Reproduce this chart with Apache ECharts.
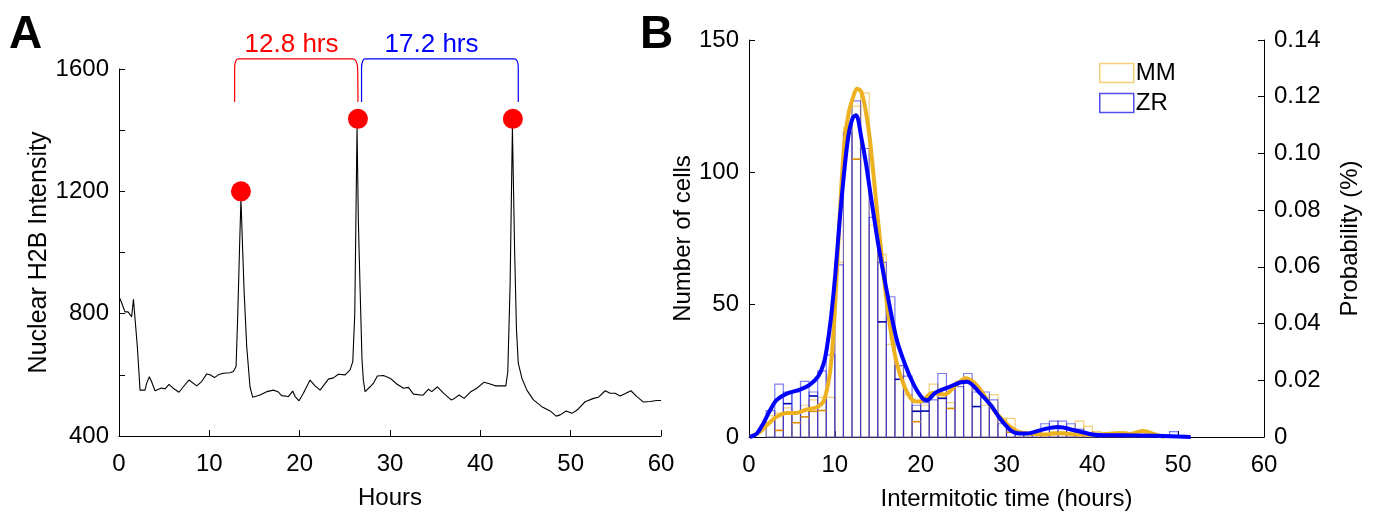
<!DOCTYPE html>
<html>
<head>
<meta charset="utf-8">
<script src="https://cdn.jsdelivr.net/npm/echarts@6/dist/echarts.min.js"></script>
<style>
html, body { margin: 0; padding: 0; background: #fff; }
#main { width: 1378px; height: 521px; }
</style>
</head>
<body>
<div id="main"></div>
<script>
// ---- panel A: single cell H2B trace ----
var traceHours = [0.1,0.3,0.66,1.0,1.4,1.6,1.77,2.03,2.33,2.88,3.06,3.36,3.6,3.99,4.7,5.1,5.54,6.0,6.64,7.12,7.75,8.6,9.15,9.71,10.08,10.56,11.0,11.55,12.29,12.66,12.96,13.15,13.33,13.5,13.7,13.84,14.14,14.5,14.8,15.6,16.36,17.09,17.6,18.0,18.75,19.23,19.5,19.93,20.41,21.15,21.7,22.26,23.18,23.73,24.29,25.03,25.58,25.88,26.1,26.35,26.5,26.69,26.9,27.05,27.24,27.8,28.15,28.6,29.27,30.01,30.75,31.49,32.04,32.6,33.63,34.26,34.63,35.25,35.92,36.77,37.14,37.65,38.2,38.95,39.61,40.42,41.09,41.64,42.82,43.04,43.3,43.55,43.8,44.0,44.2,44.6,45.15,45.88,46.81,47.73,48.4,48.84,49.5,50.13,50.68,51.6,52.53,53.08,53.82,54.37,54.92,55.48,56.0,56.67,57.33,58.06,58.8,59.54,60];
var traceIntensity = [850,835,806,806,790,847,847,692,550,550,572,594,578,548,557,554,569,556,543,561,583,564,578,603,600,591,600,605,607,611,627,800,1000,1175,1000,880,692,561,527,534,545,550,545,532,529,547,529,515,540,583,564,550,586,590,602,600,616,643,800,1410,1100,880,650,583,545,561,572,596,598,589,570,556,559,537,533,553,545,561,540,518,523,534,523,545,556,576,570,564,564,610,900,1410,1000,750,638,589,550,518,496,482,465,469,482,474,484,512,523,527,548,540,540,531,538,548,529,511,513,516,516];

var peakHours = [13.5, 26.45, 43.6];
var peakValues = [1200, 1437, 1437];

var bracketRedX = [12.8, 12.8, 12.95, 13.2, 25.9, 26.25, 26.42, 26.45];
var bracketRedY = [1492, 1605, 1628, 1633, 1633, 1625, 1600, 1492];
var bracketBlueX = [26.85, 26.85, 27.0, 27.25, 43.8, 44.1, 44.2, 44.2];
var bracketBlueY = [1492, 1605, 1628, 1633, 1633, 1625, 1600, 1492];
var bracketLabelX = [19.1, 34.6];
var bracketLabelY = [1680, 1680];
var bracketLabels = ['12.8 hrs', '17.2 hrs'];

// ---- panel B: intermitotic time histograms (1 h bins) ----
var binStart = [0,1,2,3,4,5,6,7,8,9,10,11,12,13,14,15,16,17,18,19,20,21,22,23,24,25,26,27,28,29,30,31,32,33,34,35,36,37,38,39,40,41,42,43,44,45,46,47,48,49,50,51,52];
var countsMM = [0,0,8,9,11,9,12,14,15,15,66,117,125,130,80,69,35,27,16,10,12,20,15,13,21,22,18,12,16,7,7,1,1,1,1,2,2,3,6,4,2,1,1,2,1,2,1,0,0,0,0,0,0];
var countsZR = [0,0,10,20,17,17,21,17,25,31,65,115,127,109,83,66,53,27,23,12,13,14,24,19,19,24,17,17,14,5,3,1,1,2,5,6,6,5,3,1,1,1,0,1,0,0,0,0,0,2,0,0,0];
var darkBinsMM = [3,5,6,7,8,12,19,23,30];
var darkCountsMM = [2.5,5.4,7.6,9.7,10,105,5.8,10.8,1.8];
var darkBinsZR = [4,7,15,17,19,20,22,26];
var darkCountsZR = [12.6,15.5,43.5,21.8,9.7,9.8,14.6,11.5];

var fitHoursMM = [0.1,1.28,2.06,3.2,4.4,5.55,6.72,7.88,8.66,9.24,9.63,10.06,10.5,11.07,11.6,12.08,12.58,13.09,13.6,14.1,15.11,16.12,17.13,18.14,19.15,19.95,21.37,22.78,24.2,25.21,26.22,27.23,28.23,29.24,30.25,31.26,32.27,34.29,36.31,38.33,40.35,42.88,44.39,45.91,47.42,48.43];
var fitProbMM = [0,0.0018,0.0041,0.0071,0.0085,0.0085,0.0097,0.0105,0.0125,0.019,0.028,0.048,0.074,0.1023,0.114,0.1193,0.1228,0.1217,0.115,0.1045,0.074,0.0458,0.027,0.0176,0.0128,0.0125,0.0155,0.015,0.0185,0.0207,0.0192,0.0155,0.0107,0.007,0.004,0.002,0.0013,0.0009,0.0013,0.0009,0.0009,0.0013,0.0011,0.0021,0.0008,0];
var fitHoursZR = [0.1,0.9,1.67,2.45,3.2,4.4,5.94,7.1,8.08,8.66,9.05,9.55,10.06,10.55,11.07,11.57,12.08,12.48,13.09,13.6,14.1,15.11,16.12,17.13,18.14,19.15,20.16,20.76,21.67,23.19,24.7,25.41,26.92,28.23,29.24,30.46,31.26,32.37,34.29,36.0,38.13,40.05,41.36,43.38,47.42,51.46];
var fitProbZR = [0,0.0012,0.0048,0.0094,0.013,0.0153,0.0167,0.0185,0.0215,0.0255,0.031,0.042,0.0576,0.076,0.0929,0.106,0.1125,0.1135,0.1055,0.097,0.0868,0.067,0.0504,0.0353,0.0259,0.0187,0.0138,0.013,0.0155,0.0175,0.0193,0.0195,0.0154,0.011,0.0065,0.0024,0.0013,0.0012,0.0027,0.0035,0.0022,0.0009,0.0006,0.0006,0.0004,0];

var FONT = 'Liberation Sans';
var orangeLight = 'rgba(237,177,32,0.6)';
var blueLight = 'rgba(20,20,235,0.55)';

function zip(a, b) {
	return a.map(function (v, i) { return [v, b[i]]; });
}

function histBars(stroke) {
	return function (params, api) {
		var x0 = api.value(0);
		var v = api.value(1);
		if (!v) return null;
		var p0 = api.coord([x0, 0]);
		var p1 = api.coord([x0 + 1, v]);
		return {
			type: 'rect',
			shape: { x: p0[0], y: p1[1], width: p1[0] - p0[0], height: p0[1] - p1[1] },
			style: { fill: 'none', stroke: stroke, lineWidth: 1.2 }
		};
	};
}

function darkTops(stroke) {
	return function (params, api) {
		var x0 = api.value(0);
		var v = api.value(1);
		var p0 = api.coord([x0, v]);
		var p1 = api.coord([x0 + 1, v]);
		return {
			type: 'line',
			shape: { x1: p0[0], y1: p0[1], x2: p1[0], y2: p1[1] },
			style: { stroke: stroke, lineWidth: 1.6 }
		};
	};
}

var axisText = { color: '#000', fontFamily: FONT, fontSize: 24 };
var nameText = { color: '#000', fontFamily: FONT, fontSize: 24 };
var blackLine = { lineStyle: { color: '#000', width: 1 } };
var inTicks = { inside: true, length: 6, lineStyle: { color: '#000' } };

var chart = echarts.init(document.getElementById('main'));

var option = {
	animation: false,
	backgroundColor: '#fff',
	textStyle: { fontFamily: FONT },
	grid: [
		{ left: 119, right: 717, top: 69, bottom: 85 },
		{ left: 749, right: 114, top: 40, bottom: 84 }
	],
	legend: {
		left: 1094,
		top: 56,
		orient: 'vertical',
		itemWidth: 34,
		itemHeight: 19,
		itemGap: 6,
		selectedMode: false,
		textStyle: { color: '#000', fontFamily: FONT, fontSize: 24, lineHeight: 20, padding: [0, 0, 0, -3] },
		data: [
			{ name: 'MM', icon: 'rect', itemStyle: { color: '#fff', borderColor: orangeLight, borderWidth: 1.5 } },
			{ name: 'ZR', icon: 'rect', itemStyle: { color: '#fff', borderColor: 'rgba(20,20,235,0.75)', borderWidth: 1.5 } }
		]
	},
	graphic: [
		{ type: 'text', left: 9, top: 12, style: { text: 'A', fontFamily: FONT, fontWeight: 'bold', fontSize: 46, fill: '#000' } },
		{ type: 'text', left: 640, top: 12, style: { text: 'B', fontFamily: FONT, fontWeight: 'bold', fontSize: 46, fill: '#000' } }
	],
	xAxis: [
		{
			gridIndex: 0, type: 'value', min: 0, max: 60, interval: 10,
			name: 'Hours', nameLocation: 'middle', nameGap: 50, nameTextStyle: nameText,
			axisLine: blackLine, axisTick: inTicks,
			axisLabel: Object.assign({ margin: 16 }, axisText),
			splitLine: { show: false }
		},
		{
			gridIndex: 1, type: 'value', min: 0, max: 60, interval: 10,
			name: 'Intermitotic time (hours)', nameLocation: 'middle', nameGap: 50, nameTextStyle: nameText,
			axisLine: blackLine, axisTick: inTicks,
			axisLabel: Object.assign({ margin: 16 }, axisText),
			splitLine: { show: false }
		}
	],
	yAxis: [
		{
			gridIndex: 0, type: 'value', min: 400, max: 1600, interval: 200,
			name: 'Nuclear H2B Intensity', nameLocation: 'middle', nameGap: 56,
			nameTextStyle: { color: '#000', fontFamily: FONT, fontSize: 25 },
			axisLine: Object.assign({ show: true }, blackLine),
			axisTick: inTicks,
			axisLabel: Object.assign({
				margin: 10,
				formatter: function (v) { return v % 400 === 0 ? String(v) : ''; }
			}, axisText),
			splitLine: { show: false }
		},
		{
			gridIndex: 1, type: 'value', min: 0, max: 150, interval: 50,
			name: 'Number of cells', nameLocation: 'middle', nameGap: 50, nameTextStyle: nameText,
			axisLine: Object.assign({ show: true }, blackLine),
			axisTick: inTicks,
			axisLabel: Object.assign({ margin: 10 }, axisText),
			splitLine: { show: false }
		},
		{
			gridIndex: 1, type: 'value', position: 'right', min: 0, max: 0.14, interval: 0.02,
			name: 'Probability (%)', nameLocation: 'middle', nameGap: 74, nameRotate: 90, nameTextStyle: nameText,
			axisLine: Object.assign({ show: true }, blackLine),
			axisTick: inTicks,
			axisLabel: Object.assign({
				margin: 10,
				formatter: function (v) { return v === 0 ? '0' : v.toFixed(2); }
			}, axisText),
			splitLine: { show: false }
		}
	],
	series: [
		{
			name: 'trace', type: 'line', xAxisIndex: 0, yAxisIndex: 0,
			data: zip(traceHours, traceIntensity), showSymbol: false, symbol: 'none',
			lineStyle: { color: '#000', width: 1.1 }, z: 2
		},
		{
			name: 'bracket 12.8', type: 'line', xAxisIndex: 0, yAxisIndex: 0, clip: false,
			data: zip(bracketRedX, bracketRedY), symbol: 'none', smooth: 0.3,
			lineStyle: { color: '#ff0000', width: 1.2 }
		},
		{
			name: 'bracket 17.2', type: 'line', xAxisIndex: 0, yAxisIndex: 0, clip: false,
			data: zip(bracketBlueX, bracketBlueY), symbol: 'none', smooth: 0.3,
			lineStyle: { color: '#0000ff', width: 1.2 }
		},
		{
			name: 'bracket labels', type: 'scatter', xAxisIndex: 0, yAxisIndex: 0, clip: false,
			symbolSize: 0,
			itemStyle: { opacity: 1 },
			data: bracketLabelX.map(function (x, i) {
				return {
					value: [x, bracketLabelY[i]],
					label: { color: i === 0 ? '#ff0000' : '#0000ff' }
				};
			}),
			label: {
				show: true, position: 'inside', fontFamily: FONT, fontSize: 26,
				formatter: function (p) { return bracketLabels[p.dataIndex]; }
			}
		},
		{
			name: 'mitosis', type: 'scatter', xAxisIndex: 0, yAxisIndex: 0, clip: false,
			data: zip(peakHours, peakValues), symbol: 'circle', symbolSize: 20,
			itemStyle: { color: '#ff0000', opacity: 1 }, z: 5
		},
		{
			name: 'MM', type: 'custom', xAxisIndex: 1, yAxisIndex: 1,
			renderItem: histBars(orangeLight),
			itemStyle: { color: '#EDB120' },
			data: zip(binStart, countsMM), z: 2
		},
		{
			name: 'ZR', type: 'custom', xAxisIndex: 1, yAxisIndex: 1,
			renderItem: histBars(blueLight),
			itemStyle: { color: '#0000ff' },
			data: zip(binStart, countsZR), z: 3
		},
		{
			name: 'MM counts', type: 'custom', xAxisIndex: 1, yAxisIndex: 1,
			renderItem: darkTops('#d98c00'),
			data: zip(darkBinsMM, darkCountsMM), z: 4
		},
		{
			name: 'ZR counts', type: 'custom', xAxisIndex: 1, yAxisIndex: 1,
			renderItem: darkTops('#0000b4'),
			data: zip(darkBinsZR, darkCountsZR), z: 4
		},
		{
			name: 'MM fit', type: 'line', xAxisIndex: 1, yAxisIndex: 2,
			data: zip(fitHoursMM, fitProbMM), symbol: 'none', smooth: 0.3,
			lineStyle: { color: '#EDB120', width: 4 }, z: 5
		},
		{
			name: 'ZR fit', type: 'line', xAxisIndex: 1, yAxisIndex: 2,
			data: zip(fitHoursZR, fitProbZR), symbol: 'none', smooth: 0.3,
			lineStyle: { color: '#0000ff', width: 4 }, z: 6
		}
	]
};

chart.setOption(option);
</script>
</body>
</html>
